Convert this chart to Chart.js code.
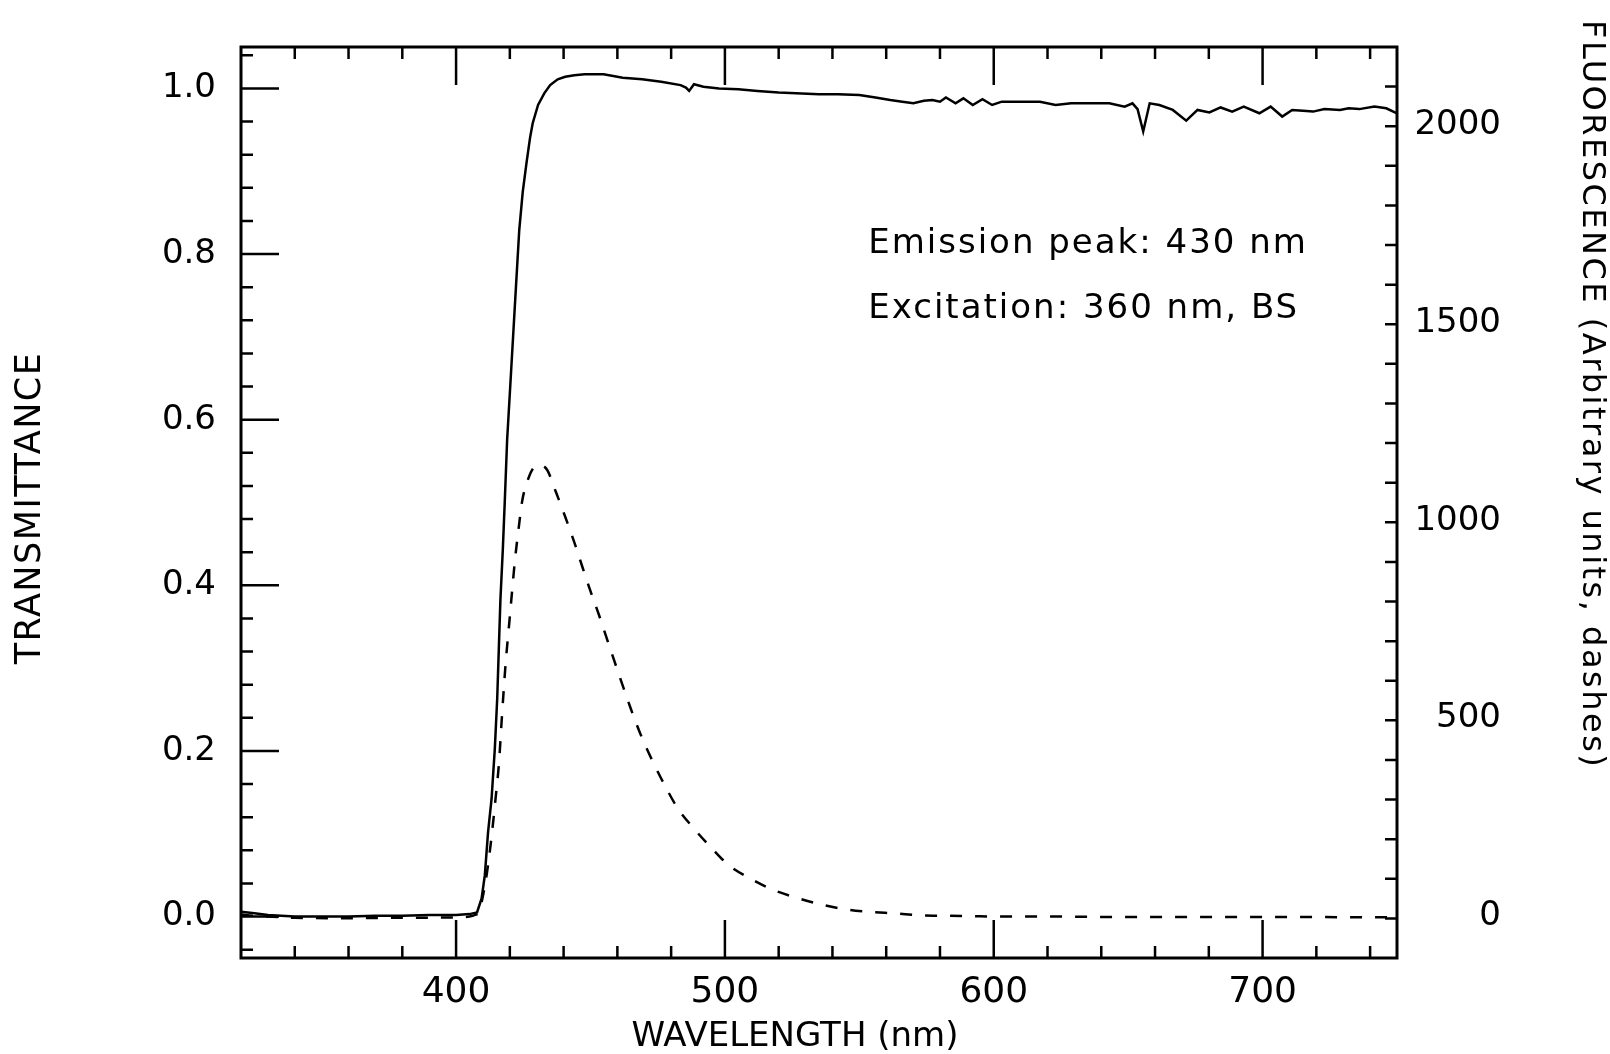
<!DOCTYPE html>
<html>
<head>
<meta charset="utf-8">
<script src="https://cdn.jsdelivr.net/npm/chart.js@4.4.1/dist/chart.umd.min.js"></script>
<style>
    html, body { margin: 0; padding: 0; background: #fff; }
    #wrap { width: 1610px; height: 1054px; }
</style>
</head>
<body>
<div id="wrap"><canvas id="spectrum"></canvas></div>
<script>
// -------- Datos --------

// Transmittance (solid line)
const transNm = [320, 325, 330, 340, 350, 360, 370, 380, 390, 400,
    405, 407.8, 409.5, 410.7, 411.9, 413.2, 414.4, 415.3, 415.9, 416.5,
    417.4, 418.1, 419.0, 420.5, 422.0, 423.5, 424.8, 426.2, 427.5, 428.5,
    430.5, 432.8, 435.0, 437.8, 440.6, 444.0, 447.8, 454.9, 462.0, 469.2,
    476.3, 483.5, 485.5, 486.7, 488.5, 492.0, 497.8, 505.0, 512.1, 520.0,
    528.6, 535.0, 542.0, 550.0, 556.0, 561.5, 566.0, 570.1, 574.0, 577.2,
    580.0, 582.2, 585.8, 588.7, 592.2, 595.8, 599.4, 603.0, 610.0, 617.2,
    623.0, 628.8, 635.0, 643.0, 648.7, 651.6, 653.5, 655.6, 658.0, 661.6,
    666.6, 671.6, 675.8, 680.2, 684.4, 688.7, 693.0, 698.8, 703.0, 707.3,
    711.0, 715.0, 718.8, 723.0, 728.8, 732.0, 736.0, 741.6, 746.0, 750.0];

const transmittance = [0.006, 0.004, 0.002, 0.000, 0.000, 0.000, 0.001, 0.001, 0.002, 0.002,
    0.003, 0.005, 0.022, 0.050, 0.102, 0.142, 0.202, 0.263, 0.323, 0.383,
    0.444, 0.500, 0.576, 0.660, 0.745, 0.829, 0.875, 0.910, 0.940, 0.958,
    0.980, 0.994, 1.004, 1.011, 1.014, 1.016, 1.017, 1.017, 1.013, 1.011,
    1.008, 1.004, 1.001, 0.997, 1.005, 1.002, 1.000, 0.999, 0.997, 0.995,
    0.994, 0.993, 0.993, 0.992, 0.989, 0.986, 0.984, 0.982, 0.985, 0.986,
    0.984, 0.989, 0.982, 0.988, 0.980, 0.987, 0.980, 0.984, 0.984, 0.984,
    0.980, 0.982, 0.982, 0.982, 0.978, 0.982, 0.975, 0.948, 0.982, 0.980,
    0.974, 0.961, 0.974, 0.971, 0.977, 0.972, 0.978, 0.970, 0.978, 0.966,
    0.974, 0.973, 0.972, 0.975, 0.974, 0.976, 0.975, 0.978, 0.976, 0.970];

// Fluorescence (dashed line)
const fluorNm = [320, 325, 330, 340, 360, 380, 400, 405, 407, 408.5,
    410.3, 411.9, 413.4, 414.7, 415.9, 417.1, 418.4, 419.9, 421.9, 423.3,
    424.6, 426.8, 428.9, 431.2, 433.9, 437.0, 440.7, 443.8, 446.9, 450.0,
    453.1, 455.6, 464.9, 469.2, 473.5, 477.9, 482.5, 488.4, 495.2, 501.4,
    509.5, 518.1, 527.4, 536.1, 545.4, 554.1, 563.4, 572.7, 582.0, 592.0,
    600, 620, 650, 700, 750];

const fluorescence = [5, 2, 0, -3, -4, -3, -2, 0, 4, 12,
    63, 130, 214, 299, 383, 510, 636, 750, 900, 982,
    1050, 1105, 1134, 1140, 1128, 1075, 1008, 949, 885, 822,
    763, 712, 527, 451, 387, 328, 273, 223, 172, 130,
    96, 67, 46, 30, 18, 12, 8, 3, 2, 1,
    0, 0, -1, -1, -2];

// Etiquetas de ejes
const xMajorTicks = [400, 500, 600, 700];
const yMajorTicks = [0, 0.2, 0.4, 0.6, 0.8, 1.0];
const y2MajorTicks = [0, 500, 1000, 1500, 2000];

const annotations = [
    { text: 'Emission peak: 430 nm', nm: 553.3, t: 0.812 },
    { text: 'Excitation: 360 nm, BS', nm: 553.3, t: 0.733 }
];

const FONT = "'DejaVu Sans', sans-serif";

// -------- Helpers --------

function isMajor(value, list) {
    return list.some(m => Math.abs(m - value) < 1e-6);
}

function toPoints(xs, ys) {
    return xs.map((x, i) => ({ x: x, y: ys[i] }));
}

// Ticks hacia dentro en los cuatro lados + marco
const frameTicks = {
    id: 'frameTicks',
    afterDatasetsDraw(chart) {
        const { ctx, chartArea: a, scales } = chart;
        const { x, y, y2 } = scales;

        ctx.save();
        ctx.strokeStyle = '#000';
        ctx.lineWidth = 2.5;
        ctx.beginPath();

        x.ticks.forEach(t => {
            const px = x.getPixelForValue(t.value);
            if (px < a.left + 3 || px > a.right - 3) return;
            const len = isMajor(t.value, xMajorTicks) ? 38 : 12;
            ctx.moveTo(px, a.bottom); ctx.lineTo(px, a.bottom - len);
            ctx.moveTo(px, a.top); ctx.lineTo(px, a.top + len);
        });

        y.ticks.forEach(t => {
            const py = y.getPixelForValue(t.value);
            if (py < a.top + 3 || py > a.bottom - 3) return;
            const len = isMajor(t.value, yMajorTicks) ? 38 : 12;
            ctx.moveTo(a.left, py); ctx.lineTo(a.left + len, py);
        });

        y2.ticks.forEach(t => {
            const py = y2.getPixelForValue(t.value);
            if (py < a.top + 3 || py > a.bottom - 3) return;
            const len = isMajor(t.value, y2MajorTicks) ? 38 : 12;
            ctx.moveTo(a.right, py); ctx.lineTo(a.right - len, py);
        });

        ctx.stroke();

        ctx.lineWidth = 3;
        ctx.strokeRect(a.left, a.top, a.right - a.left, a.bottom - a.top);
        ctx.restore();
    }
};

// Títulos de ejes, etiquetas del eje derecho y anotaciones
const chartTexts = {
    id: 'chartTexts',
    afterDraw(chart) {
        const { ctx, chartArea: a, scales: { x, y, y2 } } = chart;

        ctx.save();
        ctx.fillStyle = '#000';
        ctx.textBaseline = 'middle';

        // etiquetas del eje derecho (alineadas a la derecha)
        ctx.font = '34px "DejaVu Sans"';
        ctx.textAlign = 'right';
        y2MajorTicks.forEach(v => {
            ctx.fillText(String(v), a.right + 104, y2.getPixelForValue(v));
        });

        // Y izquierda
        ctx.save();
        ctx.font = `35px ${FONT}`;
        ctx.letterSpacing = '1.5px';
        ctx.textAlign = 'center';
        ctx.translate(31, 508);
        ctx.rotate(-Math.PI / 2);
        ctx.fillText('TRANSMITTANCE', 0, 0);
        ctx.restore();

        // Y derecha
        ctx.save();
        ctx.font = `32px ${FONT}`;
        ctx.letterSpacing = '2.5px';
        ctx.textAlign = 'left';
        ctx.translate(1591, 20);
        ctx.rotate(Math.PI / 2);
        ctx.fillText('FLUORESCENCE (Arbitrary units, dashes)', 0, 0);
        ctx.restore();

        // X
        ctx.save();
        ctx.font = `34px ${FONT}`;
        ctx.letterSpacing = '0px';
        ctx.textAlign = 'center';
        ctx.fillText('WAVELENGTH (nm)', 795, 1037);
        ctx.restore();

        // Anotaciones
        ctx.font = `34px ${FONT}`;
        ctx.letterSpacing = '2px';
        ctx.textAlign = 'left';
        annotations.forEach(n => {
            ctx.fillText(n.text, x.getPixelForValue(n.nm), y.getPixelForValue(n.t));
        });

        ctx.restore();
    }
};

// -------- Gráfica --------

const ctx = document.getElementById('spectrum');

new Chart(ctx, {
    type: 'line',
    data: {
        datasets: [
            {
                label: 'Transmittance',
                data: toPoints(transNm, transmittance),
                yAxisID: 'y',
                borderColor: '#000',
                borderWidth: 2.5,
                pointRadius: 0,
                tension: 0,
                fill: false
            },
            {
                label: 'Fluorescence',
                data: toPoints(fluorNm, fluorescence),
                yAxisID: 'y2',
                borderColor: '#000',
                borderWidth: 2.5,
                borderDash: [12, 13],
                pointRadius: 0,
                cubicInterpolationMode: 'monotone',
                fill: false
            }
        ]
    },
    options: {
        responsive: true,
        maintainAspectRatio: false,
        animation: false,
        devicePixelRatio: 1,
        layout: { padding: { top: 47, right: 107, bottom: 0, left: 0 } },
        plugins: {
            legend: { display: false },
            tooltip: { enabled: false }
        },
        scales: {
            x: {
                type: 'linear',
                position: 'bottom',
                min: 320,
                max: 750,
                grid: { display: false, drawTicks: false },
                border: { display: false },
                ticks: {
                    stepSize: 20,
                    includeBounds: false,
                    autoSkip: false,
                    maxRotation: 0,
                    padding: 13,
                    color: '#000',
                    font: { family: FONT, size: 36 },
                    callback: v => isMajor(v, xMajorTicks) ? String(v) : ''
                },
                afterFit: s => { s.height = 96; }
            },
            y: {
                type: 'linear',
                position: 'left',
                min: -0.05,
                max: 1.05,
                grid: { display: false, drawTicks: false },
                border: { display: false },
                ticks: {
                    stepSize: 0.04,
                    includeBounds: false,
                    autoSkip: false,
                    padding: 25,
                    color: '#000',
                    font: { family: FONT, size: 34 },
                    callback: v => isMajor(v, yMajorTicks) ? v.toFixed(1) : ''
                },
                afterFit: s => { s.width = 241; }
            },
            y2: {
                type: 'linear',
                position: 'right',
                min: -104.6,
                max: 2196.6,
                grid: { display: false, drawTicks: false },
                border: { display: false },
                ticks: {
                    display: false,
                    stepSize: 100,
                    includeBounds: false,
                    autoSkip: false
                },
                afterFit: s => { s.width = 106; }
            }
        }
    },
    plugins: [frameTicks, chartTexts]
});
</script>
</body>
</html>
